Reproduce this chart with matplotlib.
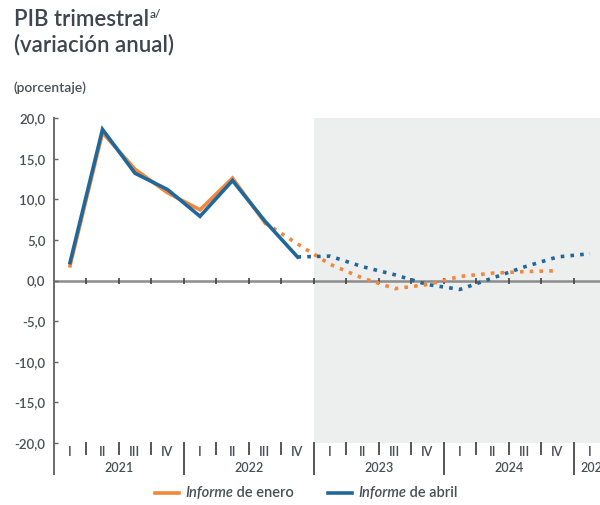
import numpy as np
import matplotlib
matplotlib.use('Agg')
from matplotlib import pyplot as plt
from matplotlib.lines import Line2D
import matplotlib.transforms as mtransforms

# quarterly GDP growth, 2021 I .. 2025 I
years = ['2021', '2022', '2023', '2024', '2025']
quarter_names = ['I', 'II', 'III', 'IV']

# Informe de enero: observed through 2022 III, projection up to 2024 IV
enero = [1.8, 18.2, 13.7, 10.8, 8.7, 12.6, 7.1,
         4.5, 2.0, 0.3, -1.0, -0.5, 0.5, 0.9, 1.1, 1.2]
enero_last_obs = 6

# Informe de abril: observed through 2022 IV, projection up to 2025 I
abril = [2.2, 18.6, 13.2, 11.2, 7.9, 12.3, 7.3, 2.9,
         3.0, 1.7, 0.7, -0.5, -1.1, 0.3, 1.7, 2.9, 3.3]
abril_last_obs = 7

first_proj_quarter = 8   # 2023 I, start of the shaded area
n_quarters = 17

orange = '#f0883e'
blue = '#21689a'
text_col = '#4a4f55'
title_col = '#3d4651'

plt.rcParams['font.family'] = ['Lato', 'DejaVu Sans']

fig = plt.figure(figsize=(6.0, 5.05), dpi=100)
ax = fig.add_axes([53.75 / 600, 62 / 505, 552.5 / 600, 325 / 505])

# projection area
ax.axvspan(first_proj_quarter - 0.5, n_quarters - 0.5, color='#edeeee', zorder=0, lw=0)

# zero line with small quarter ticks
ax.axhline(0, color='#8c8c8c', lw=1.8, zorder=1)
bounds = np.arange(n_quarters) + 0.5
ax.plot(bounds, np.zeros(len(bounds)), ls='none', marker='|', ms=4,
        mew=1.2, color='#444444', zorder=1)

lw = 2.6
for vals, last, col, z in [(enero, enero_last_obs, orange, 2),
                           (abril, abril_last_obs, blue, 3)]:
    xs = np.arange(len(vals))
    ax.plot(xs[:last + 1], vals[:last + 1], color=col, lw=lw, zorder=z,
            solid_joinstyle='miter')
    ax.plot(xs[last:], vals[last:], color=col, lw=lw, ls=(0, (1, 1.7)), zorder=z)

ax.set_xlim(-0.5, n_quarters - 0.5)
ax.set_ylim(-20, 20)
ax.set_yticks(np.arange(-20, 21, 5))
ax.set_yticklabels([('%.1f' % v).replace('.', ',') for v in np.arange(-20, 21, 5)],
                   fontsize=9.5, color=text_col, fontweight='semibold')
ax.tick_params(axis='y', direction='in', length=3, width=1, color='#666666', pad=6)
ax.set_xticks([])
for s in ['top', 'right', 'bottom']:
    ax.spines[s].set_visible(False)
ax.spines['left'].set_color('#6a6a6a')
ax.spines['left'].set_linewidth(1.4)

# category axis: quarters and years under the plot
trans = mtransforms.blended_transform_factory(ax.transData, ax.transAxes)
for k in range(n_quarters):
    ax.text(k, -0.029, quarter_names[k % 4], transform=trans, ha='center', va='center',
            fontsize=9, color=text_col, fontweight='semibold', clip_on=False)
    b = k + 0.5
    depth = -0.095 if (k + 1) % 4 == 0 else -0.035
    ax.plot([b, b], [0, depth], transform=trans, color='#555555', lw=1.4, clip_on=False)
ax.plot([-0.5, -0.5], [0, -0.095], transform=trans, color='#6a6a6a', lw=1.4, clip_on=False)
for i, y in enumerate(years):
    xc = 4 * i + 1.5 if i < 4 else 4 * i - 0.3
    ax.text(xc, -0.078, y, transform=trans, ha='center' if i < 4 else 'left', va='center',
            fontsize=9, color=text_col, fontweight='semibold', clip_on=False)

# titles
fig.text(14 / 600, 1 - 20 / 505, 'PIB trimestral', fontsize=16, fontweight='semibold',
         color=title_col, va='center', ha='left')
t_title = fig.texts[-1]
ax.annotate('a/', xy=(1, 0.75), xycoords=t_title, va='center', ha='left',
            fontsize=8.5, fontweight='semibold', color=title_col, annotation_clip=False)
fig.text(14 / 600, 1 - 45 / 505, '(variación anual)', fontsize=16, fontweight='semibold',
         color=title_col, va='center', ha='left')
fig.text(14 / 600, 1 - 88 / 505, '(porcentaje)', fontsize=10, fontweight='semibold',
         color=text_col, va='center', ha='left')

# legend
leg_y = 1 - 493 / 505
for x0, col, name in [(155, orange, ' de enero'), (328, blue, ' de abril')]:
    fig.add_artist(Line2D([x0 / 600, (x0 + 24) / 600], [leg_y, leg_y], color=col, lw=2.6))
    t = fig.text((x0 + 30) / 600, leg_y, 'Informe', style='italic', fontsize=10.5,
                 fontweight='semibold', color=text_col, va='center', ha='left')
    ax.annotate(name, xy=(1, 0.5), xycoords=t, va='center', ha='left', fontsize=10.5,
                fontweight='semibold', color=text_col, annotation_clip=False)

fig.savefig('out.png', dpi=100)
